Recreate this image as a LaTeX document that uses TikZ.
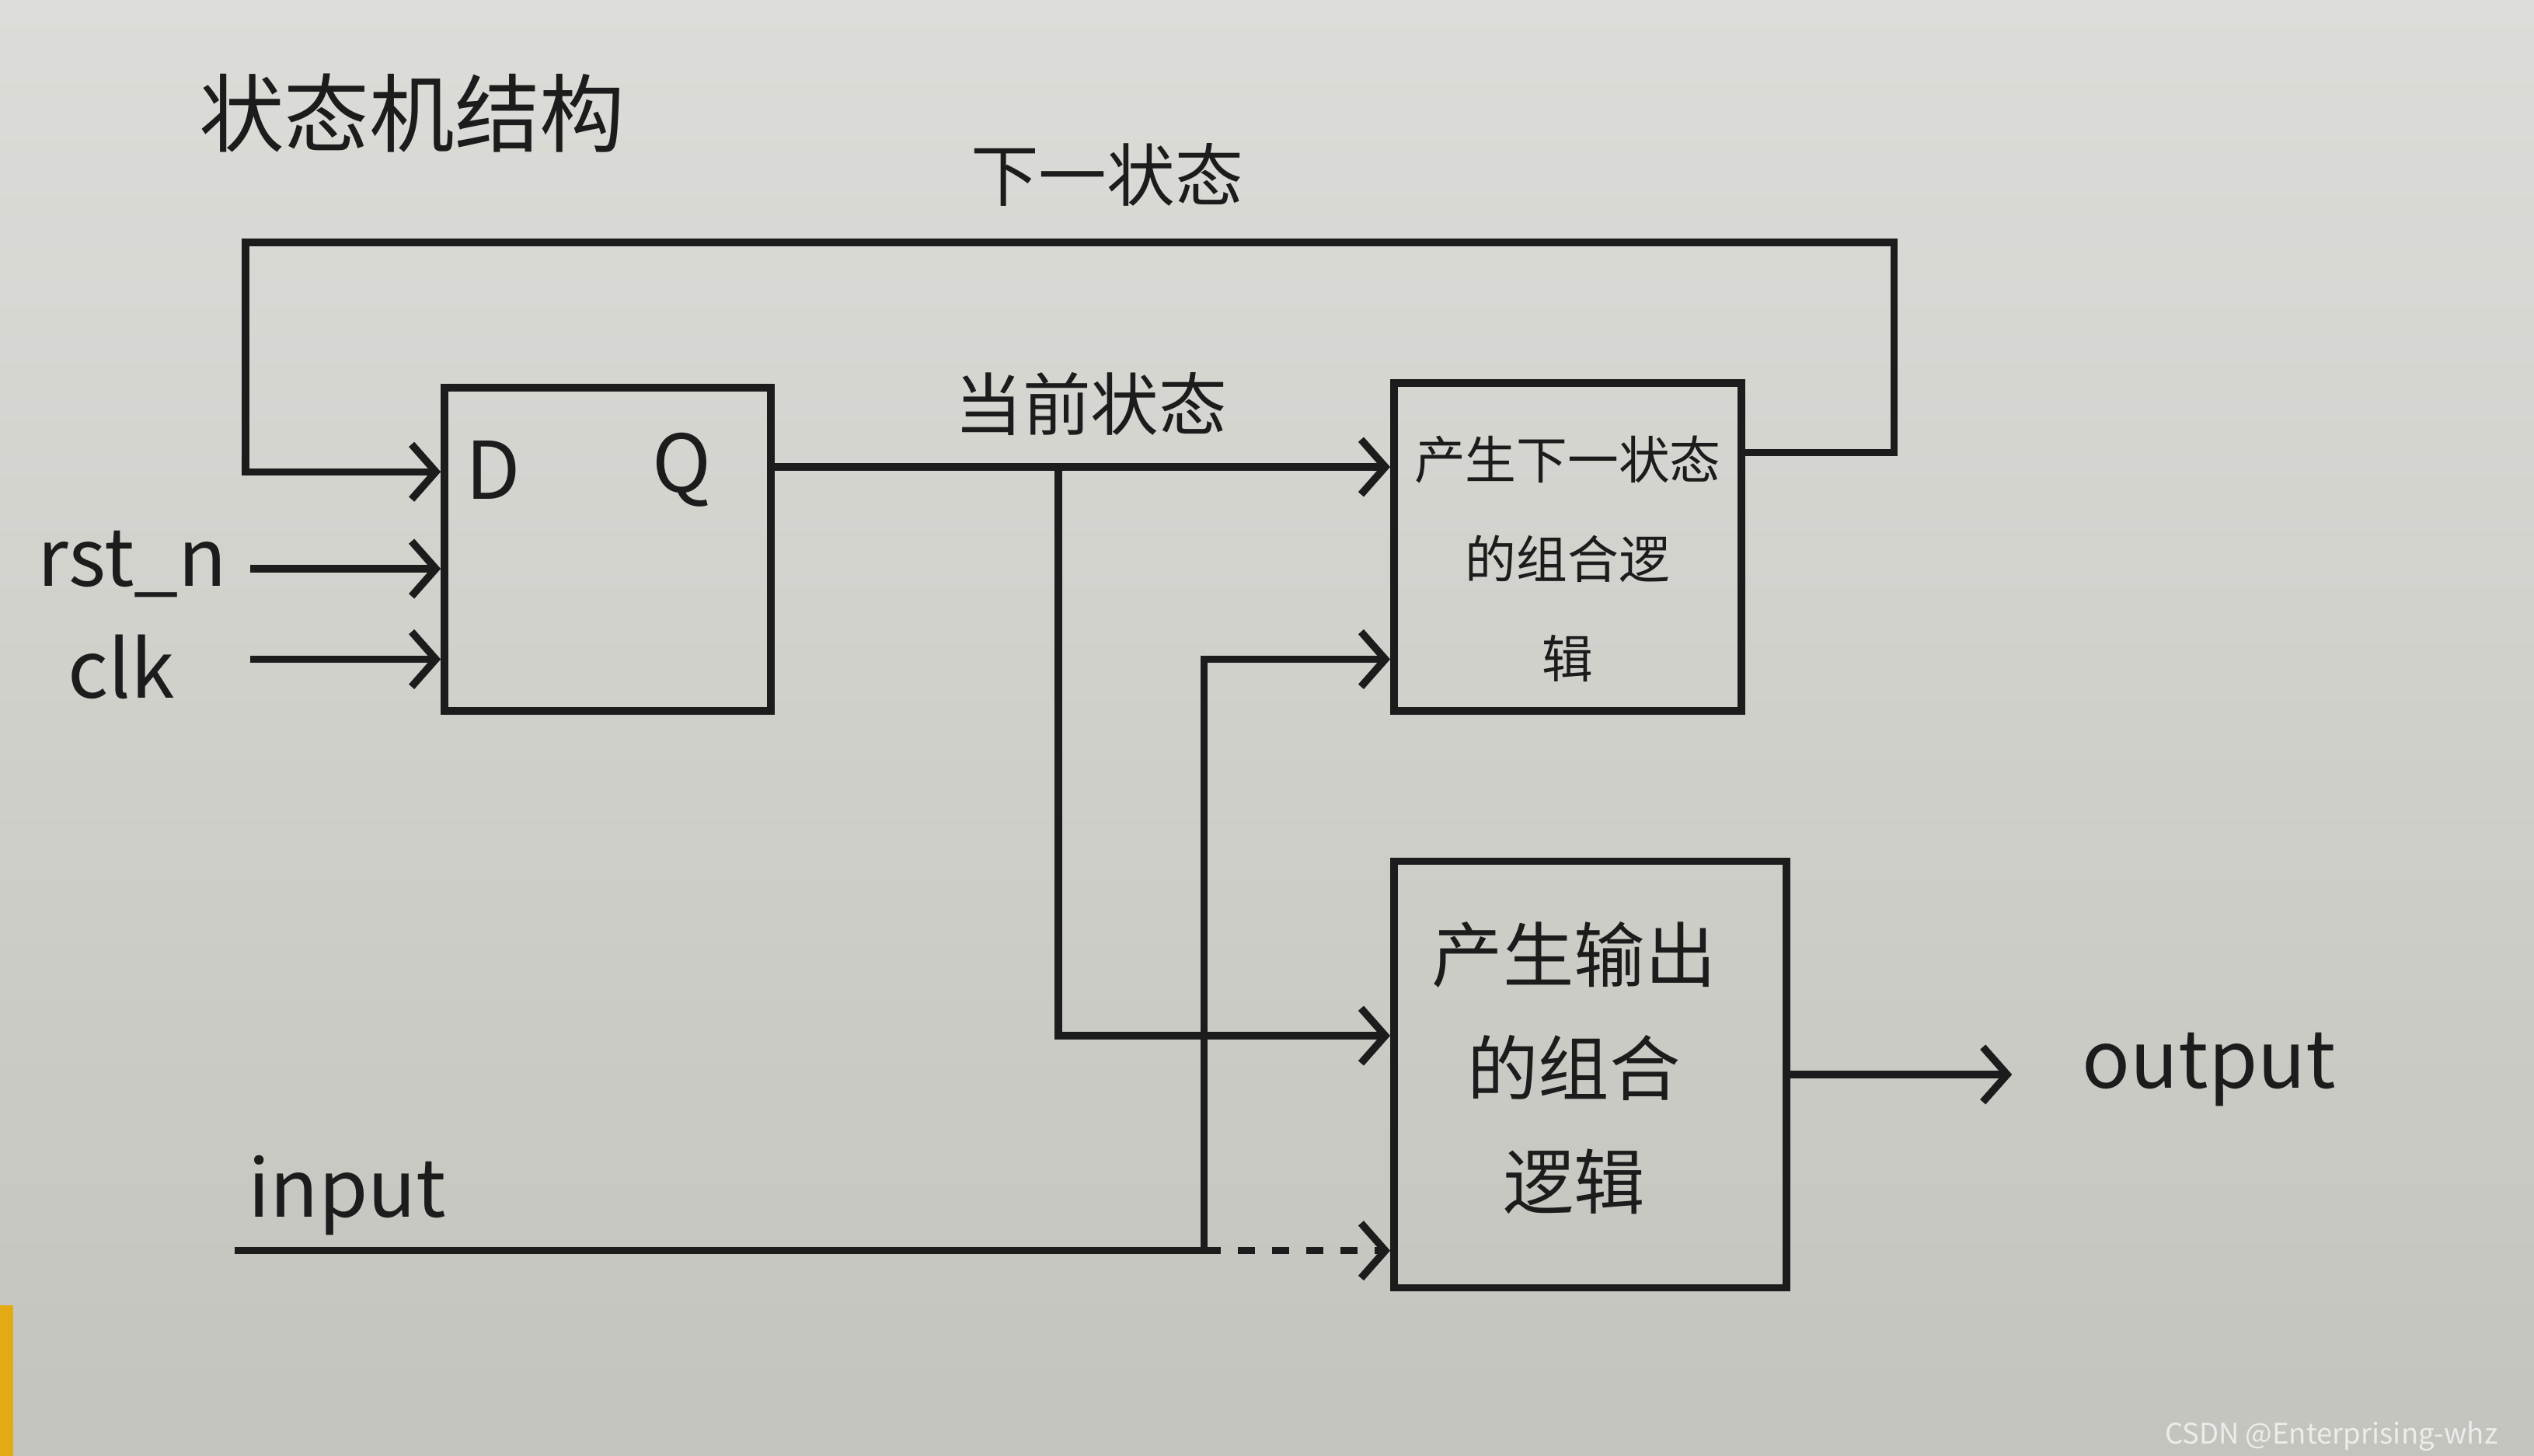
\documentclass[tikz,border=0pt]{standalone}
\usepackage{fontspec}
\setmainfont{Noto Sans CJK SC}
\usetikzlibrary{arrows.meta}
\definecolor{paper}{RGB}{220,220,216}
\definecolor{paperdark}{RGB}{196,196,190}
\definecolor{ink}{RGB}{28,28,28}
\definecolor{tape}{RGB}{228,170,20}
\tikzset{
  blk/.style={draw=ink, line width=1.3pt, inner sep=0pt},
  wire/.style={ink, line width=1.3pt},
  lbl/.style={text=ink, inner sep=1pt, align=center}
}
\begin{document}
\begin{tikzpicture}[>={Straight Barb[length=1.5mm,width=3.4mm,line width=1.3pt]}]
        % Paper
        \shade[top color=paper, bottom color=paperdark] (0,0) rectangle (15.68,9.01);
        \fill[tape] (0,0) rectangle (0.08,0.93);
        \useasboundingbox (0,0) rectangle (15.68,9.01);

        % Blocks
        \node[blk, minimum width=2.02cm, minimum height=2.00cm] (dff) at (3.76,5.61) {};
        \node[blk, minimum width=2.15cm, minimum height=2.03cm] (nsl) at (9.70,5.625) {};
        \node[blk, minimum width=2.43cm, minimum height=2.64cm] (outl) at (9.84,2.36) {};

        % Texts
        \node[lbl, font=\fontsize{15}{18}\selectfont] (title) at (2.55,8.31) {状态机结构};
        \node[lbl, font=\fontsize{12}{14}\selectfont] (nxt) at (6.85,7.93) {下一状态};
        \node[lbl, font=\fontsize{12}{14}\selectfont] (cur) at (6.75,6.51) {当前状态};
        \node[lbl, font=\fontsize{14}{16}\selectfont] (dlbl) at (3.05,6.10) {D};
        \node[lbl, font=\fontsize{14}{16}\selectfont] (qlbl) at (4.22,6.10) {Q};
        \node[lbl, font=\fontsize{9}{17.5}\selectfont] (nsltxt) at (9.70,5.55) {产生下一状态\\的组合逻\\辑};
        \node[lbl, font=\fontsize{12.5}{20}\selectfont] (outtxt) at (9.74,2.40) {产生输出\\的组合\\逻辑};
        \node[lbl, font=\fontsize{14}{16}\selectfont] (rst) at (0.82,5.52) {rst\_n};
        \node[lbl, font=\fontsize{14}{16}\selectfont] (clk) at (0.75,4.88) {clk};
        \node[lbl, font=\fontsize{14}{16}\selectfont] (inp) at (2.15,1.61) {input};
        \node[lbl, font=\fontsize{14}{16}\selectfont] (outp) at (13.67,2.39) {output};
        \node[text=white!85!gray, font=\fontsize{5}{6}\selectfont, anchor=east] (wm) at (15.58,0.12) {CSDN @Enterprising-whz};

        % Anchor points
        \coordinate (fbA) at (11.72,6.21);
        \coordinate (fbB) at (11.72,7.51);
        \coordinate (fbC) at (1.52,7.51);
        \coordinate (fbD) at (1.52,6.09);
        \coordinate (rstS) at (1.55,5.49);
        \coordinate (clkS) at (1.55,4.93);
        \coordinate (brQ) at (6.55,6.12);
        \coordinate (inS) at (1.45,1.27);
        \coordinate (inJ) at (7.45,1.27);
        \coordinate (outE) at (12.45,2.36);

        % Feedback: next state
        \draw[wire, ->] (nsl.east |- fbA) -- (fbA) -- (fbB) -- (fbC) -- (fbD) -- (dff.west |- fbD);
        % Inputs of the register
        \draw[wire, ->] (rstS) -- (dff.west |- rstS);
        \draw[wire, ->] (clkS) -- (dff.west |- clkS);
        % Current state
        \draw[wire, ->] (dff.east |- brQ) -- (nsl.west |- brQ);
        \draw[wire, ->] (brQ) -- (6.55,2.60) -- (outl.west |- 0,2.60);
        % input
        \draw[wire] (inS) -- (inJ);
        \draw[wire, ->] (inJ) -- (7.45,4.93) -- (nsl.west |- 0,4.93);
        \draw[wire, dashed, ->] (inJ) -- (outl.west |- inJ);
        % output
        \draw[wire, ->] (outl.east |- outE) -- (outE);
\end{tikzpicture}
\end{document}
